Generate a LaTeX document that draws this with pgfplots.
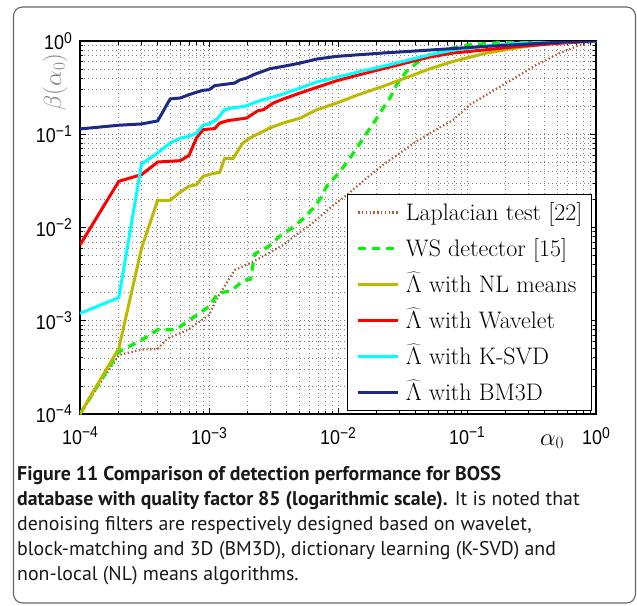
\documentclass[border=0pt]{standalone}
\usepackage{fontspec}
\usepackage{pgfplots}
\pgfplotsset{compat=1.18}
\newfontfamily\hv{Liberation Sans}
\newfontfamily\capfont{PT Sans}
\definecolor{cnavy}{rgb}{0.11,0.16,0.52}
\definecolor{colive}{rgb}{0.74,0.72,0.0}
\definecolor{cred}{rgb}{1,0,0}
\definecolor{ccyan}{rgb}{0,1,1}
\definecolor{cgreen}{rgb}{0.05,0.95,0.05}
\definecolor{cbrown}{rgb}{0.68,0.36,0.2}
\newcommand{\tl}[1]{\scalebox{1}[1.12]{\hv\fontsize{18}{18}\selectfont 10\raisebox{6bp}{\fontsize{14}{14}\selectfont #1}}}
\begin{document}
\begin{tikzpicture}
\useasboundingbox (0,0) rectangle (637bp,-606bp);
\draw[black!60, line width=1.1bp, rounded corners=9bp] (13.5bp,-7bp) rectangle (635.5bp,-603bp);
\begin{axis}[
  at={(80bp,-414bp)}, anchor=south west,
  scale only axis, width=516bp, height=373bp,
  xmode=log, ymode=log,
  xmin=1e-4, xmax=1, ymin=1e-4, ymax=1,
  xtick={1e-4,1e-3,1e-2,1e-1,1},
  ytick={1e-4,1e-3,1e-2,1e-1,1},
  xticklabels={\tl{−4},\tl{−3},\tl{−2},\tl{−1},\tl{0}},
  yticklabels={\tl{−4},\tl{−3},\tl{−2},\tl{−1},\tl{0}},
  minor xtick={2e-4,3e-4,4e-4,5e-4,6e-4,7e-4,8e-4,9e-4,2e-3,3e-3,4e-3,5e-3,6e-3,7e-3,8e-3,9e-3,2e-2,3e-2,4e-2,5e-2,6e-2,7e-2,8e-2,9e-2,0.2,0.3,0.4,0.5,0.6,0.7,0.8,0.9},
  minor ytick={2e-4,3e-4,4e-4,5e-4,6e-4,7e-4,8e-4,9e-4,2e-3,3e-3,4e-3,5e-3,6e-3,7e-3,8e-3,9e-3,2e-2,3e-2,4e-2,5e-2,6e-2,7e-2,8e-2,9e-2,0.2,0.3,0.4,0.5,0.6,0.7,0.8,0.9},
  grid=both,
  major grid style={black!50, line width=0.7bp, dash pattern=on 0.7bp off 3.3bp},
  minor grid style={black!50, line width=0.7bp, dash pattern=on 0.7bp off 3.3bp},
  tick align=inside,
  major tick length=6bp, minor tick length=3.5bp,
  every tick/.style={black, line width=0.8bp},
  axis line style={line width=1.2bp},
  xticklabel style={anchor=north, inner sep=0pt, yshift=-13bp},
  yticklabel style={anchor=east, inner sep=0pt, xshift=-8bp},
  xlabel={$\alpha_0$}, ylabel={$\beta(\alpha_0)$},
  label style={font=\fontsize{23}{23}\selectfont},
  xlabel style={at={(rel axis cs:0.915,0)}, anchor=base, yshift=-31bp},
  ylabel style={at={(rel axis cs:-0.0485,0.89)}, anchor=center, text=black!50},
  legend cell align=left,
  legend style={at={(rel axis cs:0.992,0.008)}, anchor=south east, draw=black, line width=1.2bp, fill=white,
    inner xsep=9bp, inner ysep=3.75bp, row sep=7.5bp, column sep=6bp,
    font=\fontsize{24}{24}\selectfont,
    nodes={inner sep=0pt, text height=22bp, text depth=6.5bp}},
  legend image code/.code={\draw[#1] (0bp,0bp) -- (40bp,0bp);},
]
\addplot[cbrown, line width=2.2bp, dash pattern=on 1.4bp off 2.4bp] coordinates {
(1e-4,1e-4)(2e-4,4.3e-4)(3e-4,4.9e-4)(4e-4,5e-4)(4.8e-4,6.5e-4)(6.9e-4,8e-4)(7.7e-4,9e-4)(1e-3,0.00115)(1.17e-3,0.0018)(1.58e-3,0.0035)(2.2e-3,0.0043)(3.77e-3,0.0065)(4.7e-3,0.0083)(6.07e-3,0.0106)(9.2e-3,0.0174)(1.17e-2,0.0223)(1.67e-2,0.034)(2.24e-2,0.0471)(3.03e-2,0.063)(4.07e-2,0.084)(5.17e-2,0.103)(7.83e-2,0.143)(0.105,0.207)(0.142,0.266)(0.258,0.435)(0.347,0.557)(0.526,0.744)(0.708,0.877)(1,1)};
\addlegendentry{Laplacian test [22]\hspace{5bp}}
\addplot[cgreen, line width=3.3bp, dash pattern=on 8bp off 6bp] coordinates {
(1e-4,1e-4)(2e-4,4.66e-4)(3e-4,6.2e-4)(4e-4,8e-4)(5.5e-4,8e-4)(1e-3,0.00142)(1.17e-3,0.00197)(1.49e-3,0.0021)(1.85e-3,0.0027)(2.1e-3,0.0028)(2.26e-3,0.0052)(2.88e-3,0.00622)(3.55e-3,0.0081)(4.38e-3,0.0098)(5.33e-3,0.0123)(6.44e-3,0.0161)(7.48e-3,0.0214)(8.17e-3,0.0277)(1.04e-2,0.04)(1.24e-2,0.0556)(1.4e-2,0.0713)(1.67e-2,0.103)(2e-2,0.149)(2.24e-2,0.191)(2.53e-2,0.245)(2.85e-2,0.34)(3.4e-2,0.473)(4.07e-2,0.58)(4.88e-2,0.685)(6e-2,0.77)(0.1,0.906)(0.2,0.97)(1,1)};
\addlegendentry{WS detector [15]}
\addplot[colive, line width=3bp] coordinates {
(1e-4,1e-4)(2e-4,5.06e-4)(3e-4,0.006)(4e-4,0.0196)(5e-4,0.0196)(6e-4,0.024)(7e-4,0.0277)(8e-4,0.0288)(9e-4,0.0354)(1.04e-3,0.0375)(1.21e-3,0.039)(1.32e-3,0.0547)(1.53e-3,0.0547)(1.83e-3,0.0805)(2.07e-3,0.091)(2.4e-3,0.101)(2.97e-3,0.117)(3.77e-3,0.132)(5.08e-3,0.149)(6.84e-3,0.183)(9.77e-3,0.216)(1.4e-2,0.262)(2.24e-2,0.327)(3.61e-2,0.418)(5.17e-2,0.505)(7.83e-2,0.605)(0.142,0.744)(0.258,0.856)(0.526,0.975)(1,1)};
\addlegendentry{$\widehat{\Lambda}$ with NL means}
\addplot[cred, line width=3bp] coordinates {
(1e-4,0.0065)(2e-4,0.0313)(3e-4,0.0369)(4e-4,0.0504)(6e-4,0.0521)(7e-4,0.0594)(8e-4,0.091)(9e-4,0.112)(1.107e-3,0.115)(1.21e-3,0.132)(1.40e-3,0.14)(1.95e-3,0.149)(2.4e-3,0.179)(2.64e-3,0.183)(3.15e-3,0.216)(3.77e-3,0.239)(5.08e-3,0.277)(6.84e-3,0.318)(9.77e-3,0.375)(1.4e-2,0.428)(2.24e-2,0.505)(3.61e-2,0.596)(5.17e-2,0.674)(7.83e-2,0.744)(0.142,0.807)(0.258,0.877)(0.467,0.936)(1,1)};
\addlegendentry{$\widehat{\Lambda}$ with Wavelet}
\addplot[ccyan, line width=3bp] coordinates {
(1e-4,0.0012)(2e-4,0.00177)(3e-4,0.048)(4e-4,0.063)(5e-4,0.0805)(6e-4,0.091)(7e-4,0.095)(8e-4,0.103)(9e-4,0.125)(1e-3,0.129)(1.14e-3,0.143)(1.32e-3,0.183)(1.49e-3,0.191)(1.89e-3,0.199)(2.4e-3,0.226)(2.8e-3,0.24)(3.77e-3,0.27)(5.08e-3,0.313)(6.84e-3,0.363)(9.77e-3,0.408)(1.4e-2,0.462)(2.24e-2,0.535)(3.61e-2,0.63)(5.17e-2,0.713)(7.83e-2,0.80)(0.142,0.885)(0.258,0.95)(1,1)};
\addlegendentry{$\widehat{\Lambda}$ with K-SVD}
\addplot[cnavy, line width=3bp] coordinates {
(1e-4,0.114)(2e-4,0.125)(3e-4,0.129)(4e-4,0.139)(5e-4,0.239)(6e-4,0.245)(7e-4,0.266)(8e-4,0.282)(9e-4,0.296)(1e-3,0.300)(1.107e-3,0.332)(1.58e-3,0.354)(1.73e-3,0.382)(1.95e-3,0.40)(2.26e-3,0.44)(2.97e-3,0.505)(3.77e-3,0.535)(5.08e-3,0.58)(6.84e-3,0.64)(9.77e-3,0.685)(1.4e-2,0.71)(2.24e-2,0.744)(3.61e-2,0.775)(5.17e-2,0.80)(0.142,0.877)(0.347,0.94)(0.6,0.98)(1,1)};
\addlegendentry{$\widehat{\Lambda}$ with BM3D}
\end{axis}
\begin{scope}[every node/.style={anchor=base west, inner sep=0pt, text=black!90, font=\capfont\fontsize{19.9}{19.9}\selectfont}]
\node at (17bp,-480bp) {\bfseries Figure 11 Comparison of detection performance for BOSS};
\node at (17bp,-505bp) {\bfseries database with quality factor 85 (logarithmic scale).\mdseries{} It is noted that};
\node at (17bp,-530bp) {denoising filters are respectively designed based on wavelet,};
\node at (17bp,-555bp) {block-matching and 3D (BM3D), dictionary learning (K-SVD) and};
\node at (17bp,-580bp) {non-local (NL) means algorithms.};
\end{scope}
\end{tikzpicture}
\end{document}
